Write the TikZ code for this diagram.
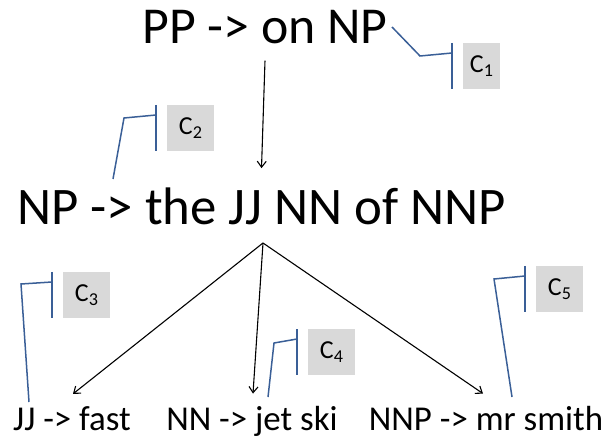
\documentclass[tikz,border=0pt]{standalone}
\usepackage{fontspec}
\setmainfont{Carlito}
\usetikzlibrary{arrows.meta}
\definecolor{tagfill}{HTML}{D9D9D9}
\definecolor{leadblue}{HTML}{3A5F97}

\begin{document}
\begin{tikzpicture}[x=1bp,y=-1bp,
  rule/.style={inner sep=0pt, anchor=base, font=\fontsize{53}{53}\selectfont},
  leaf/.style={inner sep=0pt, anchor=base, font=\fontsize{35}{35}\selectfont},
  tag/.style={fill=tagfill, inner sep=0pt, minimum width=47bp, minimum height=46bp,
              anchor=north west, font=\fontsize{26}{26}\selectfont},
  arr/.style={-{Straight Barb[length=6bp,width=9bp]}, line width=1.1bp},
  leader/.style={draw=leadblue, line width=1.5bp}]

\useasboundingbox (0,0) rectangle (611,439);

% grammar rules
\node[rule, font=\fontsize{52}{52}\selectfont] (pp) at (265,44) {PP -> on NP};
\node[rule] (np) at (261.5,225) {NP -> the JJ NN of NNP};
\node[leaf] (jj)  at (72,430)  {JJ -> fast};
\node[leaf] (nn)  at (252,430) {NN -> jet ski};
\node[leaf] (nnp) at (486,430) {NNP -> mr smith};

% derivation arrows
\coordinate (fork) at (263,243);
\draw[arr] ([yshift=-16bp]pp.south) -- ([yshift=20bp]np.north);
\draw[arr] (fork) -- ([xshift=1bp,yshift=12bp]jj.north);
\draw[arr] (fork) -- ([xshift=1bp,yshift=12bp]nn.north);
\draw[arr] (fork) -- ([xshift=-3bp,yshift=12bp]nnp.north);

% callout tags
\node[tag, minimum width=37bp] (c1) at (463,43)  {C\textsubscript{1}};
\node[tag] (c2) at (167,105) {C\textsubscript{2}};
\node[tag] (c3) at (63,272)  {C\textsubscript{3}};
\node[tag] (c4) at (308,329) {C\textsubscript{4}};
\node[tag] (c5) at (536,266) {C\textsubscript{5}};

% callout leaders: accent bar, elbow, tail
\coordinate (e1) at (420,56);  \coordinate (t1) at (392,27);
\coordinate (e2) at (124,118); \coordinate (t2) at (113,179);
\coordinate (e3) at (21,284);  \coordinate (t3) at (29,402);
\coordinate (e4) at (274,343); \coordinate (t4) at (268,397);
\coordinate (e5) at (494,279); \coordinate (t5) at (512,397);

\foreach \i in {1,...,5}{
  \draw[leader] ([xshift=-11bp]c\i.north west) -- ([xshift=-11bp]c\i.south west);
  \draw[leader] ([xshift=-11bp,yshift=-10bp]c\i.north west) -- (e\i) -- (t\i);
}
\end{tikzpicture}
\end{document}
